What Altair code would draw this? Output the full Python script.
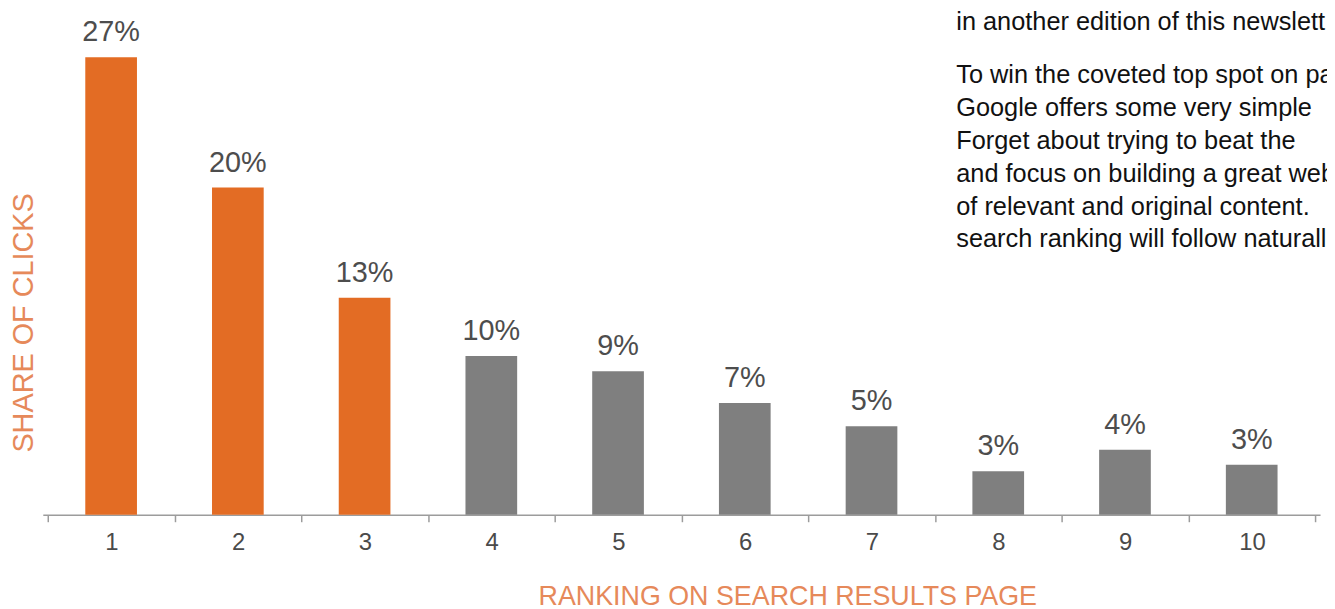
import altair as alt
import pandas as pd

# ---- data ----
ranks = [1, 2, 3, 4, 5, 6, 7, 8, 9, 10]
shares = [27.4, 19.6, 13.0, 9.5, 8.6, 6.7, 5.3, 2.6, 3.9, 3.0]
labels = ["27%", "20%", "13%", "10%", "9%", "7%", "5%", "3%", "4%", "3%"]
groups = ["top", "top", "top", "rest", "rest", "rest", "rest", "rest", "rest", "rest"]
tick_edges = [0.5, 1.5, 2.5, 3.5, 4.5, 5.5, 6.5, 7.5, 8.5, 9.5, 10.5]

para1 = ["in another edition of this newslett"]
para2 = [
    "To win the coveted top spot on pag",
    "Google offers some very simple",
    "Forget about trying to beat the",
    "and focus on building a great web",
    "of relevant and original content.",
    "search ranking will follow naturall",
]

df = pd.DataFrame({"rank": ranks, "share": shares, "label": labels, "group": groups})

ORANGE = "#E36C24"
GRAY = "#7F7F7F"
TITLE_ORANGE = "#E6895A"
SANS = "Liberation Sans, Arial, sans-serif"

W, H = 1285, 504

x_enc = alt.X(
    "rank:Q",
    scale=alt.Scale(domain=[0.5, 10.5], nice=False, zero=False),
    axis=alt.Axis(
        values=tick_edges,
        labelExpr="datum.value > 10 ? '' : format(datum.value + 0.5, 'd')",
        labelOffset=64,
        labelFlush=False,
        labelOverlap=False,
        grid=False,
        domainColor="#9c9c9c",
        domainWidth=1.5,
        tickColor="#9c9c9c",
        tickWidth=1.5,
        tickSize=7,
        labelColor="#4a4a4a",
        labelFont=SANS,
        labelFontSize=24,
        labelPadding=9,
        labelBaseline="top",
        title="RANKING ON SEARCH RESULTS PAGE",
        titleFont=SANS,
        titleFontSize=27,
        titleFontWeight="normal",
        titleColor=TITLE_ORANGE,
        titleX=749,
        titleY=90,
        titleAlign="center",
        titleBaseline="alphabetic",
    ),
)

y_enc = alt.Y(
    "share:Q",
    scale=alt.Scale(domain=[0, 30], nice=False),
    axis=alt.Axis(
        title="SHARE OF CLICKS",
        domain=False,
        ticks=False,
        labels=False,
        grid=False,
        titleAngle=270,
        titleX=-19,
        titleY=310.5,
        titleAlign="center",
        titleBaseline="middle",
        titleFont=SANS,
        titleFontSize=29,
        titleFontWeight="normal",
        titleColor=TITLE_ORANGE,
    ),
)

bars = alt.Chart(df).mark_bar(size=52).encode(
    x=x_enc,
    y=y_enc,
    color=alt.Color(
        "group:N",
        scale=alt.Scale(domain=["top", "rest"], range=[ORANGE, GRAY]),
        legend=None,
    ),
)

values = alt.Chart(df).mark_text(
    dy=-16, baseline="alphabetic", font=SANS, fontSize=29, color="#4d4d4d"
).encode(x="rank:Q", y="share:Q", text="label:N")

one = pd.DataFrame({"t": [0]})
p1 = alt.Chart(one).mark_text(
    text=para1, align="left", baseline="alphabetic", font=SANS,
    fontSize=25.5, lineHeight=33, color="#111111",
).encode(x=alt.value(919), y=alt.value(16))
p2 = alt.Chart(one).mark_text(
    text=para2, align="left", baseline="alphabetic", font=SANS,
    fontSize=25.5, lineHeight=33, color="#111111",
).encode(x=alt.value(919), y=alt.value(70))

chart = (
    alt.layer(bars, values, p1, p2)
    .properties(
        width=W,
        height=H,
        autosize=alt.AutoSizeParams(type="none"),
        padding={"left": 35, "top": 4, "right": 7, "bottom": 97},
        background="white",
    )
    .configure_view(stroke=None)
)

chart.save("out.html", embed_options={"renderer": "svg", "actions": False})
